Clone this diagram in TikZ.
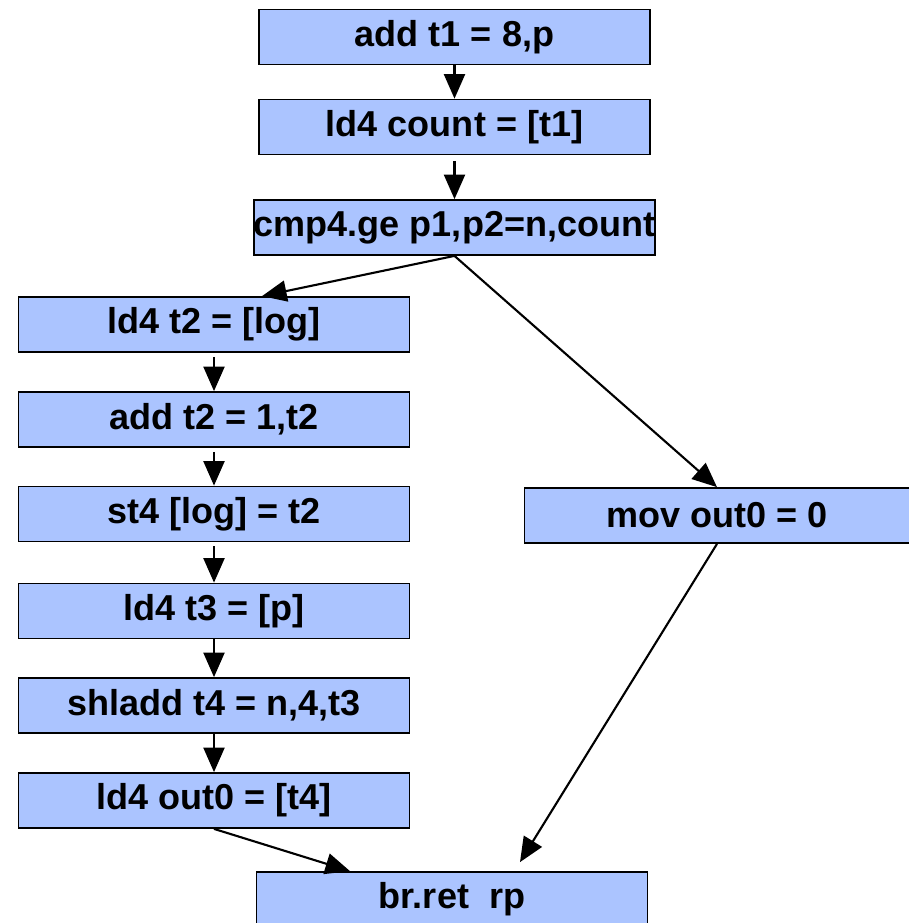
\documentclass[tikz,border=0pt]{standalone}
\usepackage{fontspec}
\setmainfont{Liberation Sans}
\usepackage{tikz}
\usetikzlibrary{arrows.meta,shapes}
\definecolor{boxblue}{RGB}{171,196,255}

\begin{document}
\begin{tikzpicture}
            \useasboundingbox (0,0) rectangle (18.18,-18.46);
            \tikzstyle{instr}=[rectangle,draw,line width=1pt,fill=boxblue,inner sep=0pt,
                               minimum width=7.82cm,minimum height=1.1cm,
                               font=\bfseries\fontsize{20.5}{22}\selectfont]

            \tikzstyle{every edge}=[line width=1.2pt,draw,-{Triangle[length=14pt,width=12pt]}]

            % top block
            \node[instr] (add1) at (9.09,-0.74) {add t1 = 8,p};
            \node[instr] (cnt)  at (9.09,-2.54) {ld4 count = [t1]};
            \node[instr] (cmp)  at (9.09,-4.55) {cmp4.ge p1,p2=n,count};

            % left branch
            \node[instr] (ldlog) at (4.28,-6.49)  {ld4 t2 = [log]};
            \node[instr] (add2)  at (4.28,-8.39)  {add t2 = 1,t2};
            \node[instr] (stlog) at (4.28,-10.28) {st4 [log] = t2};
            \node[instr] (ldp)   at (4.28,-12.22) {ld4 t3 = [p]};
            \node[instr] (shl)   at (4.28,-14.11) {shladd t4 = n,4,t3};
            \node[instr] (ldout) at (4.28,-16.01) {ld4 out0 = [t4]};

            % right branch
            \node[instr,minimum width=7.7cm] (mov) at (14.34,-10.31) {mov out0 = 0};

            % exit
            \node[instr] (ret) at (9.04,-17.99) {br.ret~~rp};

            \path (add1) edge (cnt);
            \path ([yshift=-0.12cm]cnt.south) edge (cmp);
            \path (cmp.south) edge ([xshift=0.96cm]ldlog.north);
            \path (cmp.south) edge (mov.north);
            \path ([yshift=-0.08cm]ldlog.south) edge (add2);
            \path ([yshift=-0.08cm]add2.south) edge (stlog);
            \path ([yshift=-0.08cm]stlog.south) edge (ldp);
            \path (ldp) edge (shl);
            \path (shl) edge (ldout);
            \path (mov.south) edge ([xshift=1.36cm,yshift=0.18cm]ret.north);
            \path (ldout.south) edge ([xshift=-2.04cm]ret.north);
        \end{tikzpicture}
\end{document}
